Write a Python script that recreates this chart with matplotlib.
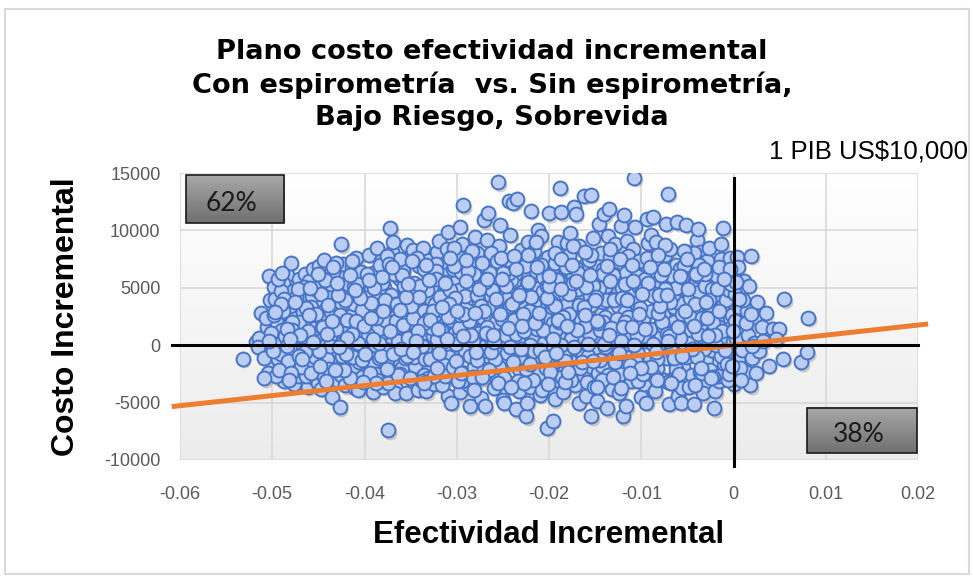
import matplotlib
matplotlib.use("Agg")
import matplotlib.pyplot as plt
import numpy as np
from matplotlib import transforms
from matplotlib.colors import LinearSegmentedColormap
from matplotlib.patches import Rectangle


OUTPUT_PATH = "out.png"

# Incremental effectiveness per simulation, in thousandths
delta_effect_milli = [
    -53.2, -51.8, -51.4, -51.2, -51.5, -50.9, -50.4, -50.6, -50.2, -50.5,
    -49.8, -49.5, -49.9, -49.2, -49.6, -49.0, -48.7, -49.3, -48.4, -48.9,
    -48.2, -49.7, -48.5, -49.1, -48.8, -48.1, -49.4, -48.6, -48.3, -49.0,
    -48.0, -47.8, -47.6, -47.3, -47.9, -47.1, -47.5, -47.7, -47.2, -47.4,
    -47.0, -46.8, -46.5, -46.9, -46.3, -46.6, -46.1, -46.7, -46.4, -46.2,
    -46.0, -45.8, -45.5, -45.2, -45.9, -45.6, -45.3, -45.0, -45.7, -45.4,
    -44.9, -44.6, -44.3, -44.8, -44.1, -44.5, -44.0, -44.7, -44.2, -44.4,
    -43.8, -43.5, -43.2, -43.9, -43.4, -43.0, -43.6, -43.3, -43.7, -43.1,
    -42.5, -42.7, -42.9, -42.2, -42.6, -42.0, -42.4, -42.8, -42.1, -42.3,
    -41.8, -41.5, -41.2, -41.9, -41.4, -41.0, -41.6, -41.3, -41.7, -41.1,
    -40.9, -40.6, -40.3, -40.8, -40.1, -40.5, -40.0, -40.7, -40.2, -40.4,
    -39.8, -39.5, -39.2, -39.9, -39.4, -39.0, -39.6, -39.3, -39.7, -39.1,
    -38.9, -38.6, -38.3, -38.8, -38.1, -38.5, -38.0, -38.7, -38.2, -38.4,
    -37.8, -37.4, -37.2, -37.9, -37.5, -37.0, -37.6, -37.3, -37.7, -37.1,
    -36.9, -36.6, -36.3, -36.8, -36.1, -36.5, -36.0, -36.7, -36.2, -36.4,
    -35.8, -35.5, -35.3, -35.9, -35.4, -35.0, -35.6, -35.2, -35.7, -35.1,
    -34.9, -34.6, -34.3, -34.8, -34.1, -34.5, -34.0, -34.7, -34.2, -34.4,
    -33.8, -33.5, -33.2, -33.9, -33.4, -33.0, -33.6, -33.3, -33.7, -33.1,
    -32.9, -32.6, -32.3, -32.8, -32.1, -32.5, -32.0, -32.7, -32.2, -32.4,
    -31.8, -31.5, -31.2, -31.9, -31.4, -31.0, -31.6, -31.3, -31.7, -31.1,
    -30.9, -30.6, -30.3, -30.8, -30.1, -30.5, -30.0, -30.7, -30.2, -30.4,
    -29.8, -29.3, -29.2, -29.9, -29.4, -29.0, -29.6, -29.5, -29.7, -29.1,
    -28.9, -28.6, -28.3, -28.8, -28.1, -28.5, -28.0, -28.7, -28.2, -28.4,
    -27.8, -27.5, -27.2, -27.9, -27.4, -27.0, -27.6, -27.3, -27.7, -27.1,
    -26.6, -26.9, -26.3, -26.8, -26.1, -26.5, -26.0, -26.7, -26.2, -26.4,
    -25.5, -25.8, -25.2, -25.9, -25.4, -25.0, -25.6, -25.3, -25.7, -25.1,
    -24.9, -24.6, -24.3, -24.8, -23.9, -24.5, -24.0, -24.7, -24.2, -24.4,
    -23.5, -23.8, -23.2, -23.9, -23.4, -23.0, -23.6, -23.3, -23.7, -23.1,
    -22.9, -22.5, -22.3, -22.8, -22.0, -22.6, -22.1, -22.7, -22.2, -22.4,
    -21.8, -21.5, -21.2, -21.9, -21.4, -21.0, -21.6, -21.3, -21.7, -21.1,
    -20.9, -20.2, -20.3, -20.8, -20.1, -20.5, -20.0, -20.7, -19.6, -20.4,
    -19.8, -19.5, -19.2, -19.9, -19.4, -19.0, -19.6, -19.3, -19.7, -19.1,
    -18.8, -18.6, -18.3, -18.9, -18.1, -18.5, -18.0, -18.7, -18.2, -18.4,
    -17.8, -17.3, -17.2, -17.9, -17.4, -17.0, -17.6, -17.1, -17.7, -16.8,
    -16.9, -16.2, -16.3, -16.8, -16.1, -16.5, -16.0, -16.7, -16.4, -16.6,
    -15.5, -15.8, -15.2, -15.9, -15.4, -15.0, -15.6, -15.3, -15.7, -15.1,
    -14.9, -14.6, -14.3, -14.8, -14.1, -14.5, -14.0, -14.7, -14.2, -14.4,
    -13.5, -13.8, -13.2, -13.9, -13.4, -13.0, -13.6, -13.3, -13.7, -13.1,
    -12.9, -12.6, -12.3, -12.8, -12.0, -12.5, -12.2, -12.7, -12.1, -12.4,
    -11.6, -11.8, -11.2, -11.9, -11.4, -11.0, -11.5, -11.3, -11.7, -11.1,
    -10.8, -10.6, -10.3, -10.9, -10.1, -10.5, -10.0, -10.7, -10.2, -10.4,
    -9.8, -9.5, -9.2, -9.9, -9.4, -9.0, -9.6, -9.3, -9.7, -9.1,
    -8.9, -8.7, -8.3, -8.8, -8.1, -8.5, -8.0, -8.6, -8.2, -8.4,
    -7.8, -7.5, -7.1, -7.9, -7.4, -7.0, -7.6, -7.3, -7.7, -7.2,
    -6.9, -6.6, -6.3, -6.8, -6.1, -6.5, -6.0, -6.7, -6.2, -6.4,
    -5.8, -5.5, -5.1, -5.9, -5.4, -5.0, -5.6, -5.3, -5.7, -5.2,
    -4.9, -4.6, -4.3, -4.8, -4.1, -4.5, -4.0, -4.7, -4.2, -4.4,
    -3.8, -3.5, -3.2, -3.9, -3.4, -3.0, -3.6, -3.3, -3.7, -3.1,
    -2.9, -2.6, -2.3, -2.8, -2.1, -2.5, -2.0, -2.7, -2.2, -2.4,
    -1.9, -1.6, -1.1, -1.8, -1.4, -1.0, -1.5, -1.3, -1.7, -1.2,
    -0.9, -0.6, -0.3, -0.8, -0.1, -0.5, 0.0, -0.7, -0.2, -0.4,
    0.2, 0.5, 0.8, 0.3, 1.1, 0.6, 1.4, 0.9, 1.2, 0.4,
    1.6, 1.9, 2.3, 1.8, 2.0, 2.6, 1.5, 2.2, 3.1, 2.8,
    3.5, 4.3, 4.9, 5.4, 5.5, 7.3, 8.0, 8.1, 3.8, 4.6,
    -50.1, -49.6, -49.1, -48.6, -48.1, -47.6, -47.1, -46.6, -46.1, -45.6,
    -45.1, -44.6, -44.1, -43.6, -43.1, -42.6, -42.1, -41.6, -41.1, -40.6,
    -40.1, -39.6, -39.1, -38.6, -38.1, -37.6, -37.1, -36.6, -36.1, -35.6,
    -35.1, -34.6, -34.1, -33.6, -33.1, -32.6, -32.1, -31.6, -31.1, -30.6,
    -30.1, -29.6, -29.1, -28.6, -28.1, -27.6, -27.1, -26.6, -26.1, -25.6,
    -25.1, -24.6, -24.1, -23.6, -23.1, -22.6, -22.1, -21.6, -21.1, -20.6,
    -20.1, -19.6, -19.1, -18.6, -18.1, -17.6, -17.1, -16.6, -16.1, -15.6,
    -15.1, -14.6, -14.1, -13.6, -13.1, -12.6, -12.1, -11.6, -11.1, -10.6,
    -10.1, -9.6, -9.1, -8.6, -8.1, -7.6, -7.1, -6.6, -6.1, -5.6,
    -5.1, -4.6, -4.1, -3.6, -3.1, -2.6, -2.1, -1.6, -1.1, -0.6,
    -49.4, -48.3, -47.4, -46.3, -45.3, -44.4, -43.4, -42.3, -41.4, -40.3,
    -39.4, -38.3, -37.4, -36.3, -35.4, -34.3, -33.4, -32.3, -31.4, -30.3,
    -29.4, -28.3, -27.4, -26.3, -25.4, -24.3, -23.4, -22.3, -21.4, -20.3,
    -19.4, -18.3, -17.4, -16.3, -15.4, -14.3, -13.4, -12.3, -11.4, -10.3,
    -9.4, -8.3, -7.4, -6.3, -5.4, -4.3, -3.4, -2.3, -1.4, -0.3,
    -50.7, -49.9, -48.8, -47.9, -46.7, -45.8, -44.7, -43.8, -42.7, -41.8,
    -40.7, -39.8, -38.7, -37.8, -36.7, -35.8, -34.7, -33.8, -32.7, -31.8,
    -30.7, -29.8, -28.7, -27.8, -26.7, -25.8, -24.7, -23.8, -22.7, -21.8,
    -20.7, -19.8, -18.7, -17.8, -16.7, -15.8, -14.7, -13.8, -12.7, -11.8,
    -10.7, -9.8, -8.7, -7.8, -6.7, -5.8, -4.7, -3.8, -2.7, -1.8,
    -36.2, -34.2, -32.2, -30.2, -28.2, -26.2, -24.2, -22.2, -20.2, -18.2,
    -16.2, -14.2, -12.2, -10.2, -8.2, -6.2, -4.2, -2.2, -37.6, -33.6,
    -29.6, -25.6, -21.6, -17.6, -13.6, -9.6, -5.6, -1.6, -43.6, -39.6,
    -31.4, -27.4, -23.4, -19.4, -15.4, -11.4, -7.4, -3.4, -45.4, -41.4,
    -50.35, -49.85, -49.25, -48.75, -48.35, -47.85, -47.25, -46.85, -46.35, -45.75,
    -45.25, -44.85, -44.25, -43.75, -43.25, -42.85, -42.25, -41.85, -41.25, -40.85,
    -40.25, -39.75, -39.25, -38.85, -38.25, -37.75, -37.25, -36.85, -36.35, -35.75,
    -35.25, -34.85, -34.25, -33.75, -33.25, -32.85, -32.25, -31.75, -31.25, -30.85,
    -30.25, -29.85, -29.25, -28.75, -28.25, -27.85, -27.25, -26.85, -26.25, -25.75,
    -25.25, -24.85, -24.25, -23.75, -23.25, -22.85, -22.25, -21.75, -21.25, -20.85,
    -20.25, -19.85, -19.25, -18.75, -18.25, -17.85, -17.25, -16.85, -16.25, -15.75,
    -15.25, -14.85, -14.25, -13.75, -13.25, -12.85, -12.25, -11.75, -11.25, -10.85,
    -10.25, -9.85, -9.25, -8.75, -8.25, -7.85, -7.25, -6.85, -6.25, -5.75,
    -5.25, -4.85, -4.25, -3.75, -3.25, -2.85, -2.25, -1.75, -1.25, -0.75,
    -49.05, -47.95, -46.95, -45.95, -44.95, -43.95, -42.95, -41.95, -40.95, -39.95,
    -38.95, -37.95, -36.95, -35.95, -34.95, -33.95, -32.95, -31.95, -30.95, -29.95,
    -28.95, -27.95, -26.95, -25.95, -24.95, -23.95, -22.95, -21.95, -20.95, -19.95,
    -18.95, -17.95, -16.95, -15.95, -14.95, -13.95, -12.95, -11.95, -10.95, -9.95,
    -8.95, -7.95, -6.95, -5.95, -4.95, -3.95, -2.95, -1.95, -0.95, 0.15,
    -48.45, -46.45, -44.45, -42.45, -40.45, -38.45, -36.45, -34.45, -32.45, -30.45,
    -28.45, -26.45, -24.45, -22.45, -20.45, -18.45, -16.45, -14.45, -12.45, -10.45,
    -8.45, -6.45, -4.45, -2.45, -0.45, -47.05, -43.05, -39.05, -35.05, -31.05,
    -27.05, -23.05, -19.05, -15.05, -11.05, -7.05, -3.05, -0.05, 0.75, 1.35,
    -37.35, -33.35, -29.35, -25.35, -21.35, -17.35, -13.35, -9.35, -5.35, -1.35,
    0.45, 1.05, 0.85, 1.65, 2.45, 3.25, 2.05, 0.25, -0.35, 1.95,
    -49.65, -48.05, -46.05, -44.05, -42.05, -40.05, -38.05, -36.05, -34.05, -32.05,
    -30.05, -28.05, -26.05, -24.05, -22.05, -20.05, -18.05, -16.05, -14.05, -12.05,
    -10.05, -8.05, -6.05, -4.05, -2.05, -39.55, -35.55, -31.55, -27.55, -23.55,
    -19.55, -15.55, -11.55, -7.55, -3.55, -47.55, -43.55, -45.55, -41.55, -37.55,
    -33.55, -29.55, -25.55, -21.55, -17.55, -13.55, -9.55, -5.55, -1.55, -48.95,
    -45.05, -41.05, -37.05, -33.05, -29.05, -25.05, -21.05, -17.05, -13.05, -9.05,
    -5.05, -1.05, -43.25, -39.25, -35.25, -31.25, -27.25, -23.25, -19.25, -15.25,
    -11.25, -7.25, -3.25, -46.75, -42.75, -38.75, -34.75, -30.75, -26.75, -22.75,
    -18.75, -14.75, -10.75, -6.75, -2.75, -48.15, -44.15, -40.15, -36.15, -32.15,
    -28.15, -24.15, -20.15, -16.15, -12.15, -8.15, -4.15, -0.15, 0.55, -50.85,
]

# Incremental cost per simulation, in thousands of US$
delta_cost_thousand = [
    -1.2, 0.3, 0.6, 2.8, -0.2, -1.1, 6.0, 1.6, 3.9, -2.4,
    5.1, 3.2, 0.9, -1.8, 2.1, 4.4, -3.1, -0.5, 6.1, 1.3,
    -2.6, 4.0, 3.6, 0.2, 5.4, 1.9, -1.2, -2.0, 2.8, -0.8,
    7.2, 4.7, -3.4, 0.6, 3.0, 5.8, -1.6, 2.4, -2.7, 1.1,
    3.9, -0.3, 6.2, -2.2, 4.5, 1.7, -3.6, 2.9, -1.0, 0.4,
    5.6, 2.2, -2.9, 3.5, -1.5, 6.6, 0.9, -3.3, 4.3, 1.5,
    6.9, -0.7, 3.1, 2.5, -2.4, 5.0, 4.1, -3.8, 0.0, 7.4,
    1.8, -4.5, 5.8, -1.9, 3.7, -3.0, 0.5, 6.3, 4.6, -0.9,
    8.8, -5.4, 2.0, 4.8, -2.6, 6.0, 1.1, 3.2, -3.5, 7.1,
    5.3, -1.3, 2.7, 0.3, 6.8, -3.7, 4.0, -2.1, 1.5, 3.6,
    7.6, 1.0, -2.8, 4.4, 5.9, -0.4, 2.3, -3.9, 0.8, 6.4,
    3.0, 7.9, -1.7, 5.5, -3.2, 1.9, -0.2, 4.9, 2.6, -4.1,
    6.1, 8.5, 0.6, -2.5, 3.8, 1.4, -3.6, 4.6, 7.3, -1.1,
    2.2, -7.4, 10.2, 5.1, -0.6, 8.1, 3.4, -2.9, 6.7, 0.1,
    9.0, -3.8, 1.7, 4.2, -1.4, 7.0, 2.8, -4.2, 5.8, 0.4,
    6.5, -4.2, 3.3, -2.0, 8.7, 1.2, 4.9, -0.8, 2.0, 7.7,
    0.0, 5.4, -3.1, 3.7, 6.9, -1.8, 2.5, 8.3, -3.9, 1.6,
    4.4, -2.6, 7.4, 1.0, -0.3, 5.9, 3.0, -4.0, 8.5, 2.3,
    6.3, 0.8, -1.5, 4.0, 8.1, -3.4, 2.7, 5.2, -0.9, 3.6,
    -2.2, 7.0, 1.9, 9.1, 4.6, -4.4, 0.3, 6.1, 3.1, 8.4,
    9.9, -5.0, 2.9, -1.0, 5.5, 7.8, -3.0, 3.9, 1.1, 6.6,
    4.8, 12.2, -2.4, 0.5, 8.8, 2.0, -4.1, 6.4, 10.3, -0.5,
    3.4, -5.3, 7.3, 1.5, -1.9, 5.0, 9.4, -3.5, 4.1, 0.7,
    8.0, -2.8, 2.4, 6.0, -4.6, 10.9, 3.7, -0.2, 1.2, 5.7,
    11.5, -5.3, 4.3, -1.3, 7.6, 2.6, -3.7, 9.2, 0.2, 6.3,
    14.2, 1.9, -2.5, 5.1, 8.6, -4.8, 3.0, 10.5, -0.7, 6.8,
    -5.0, 4.0, 12.6, 0.9, 12.4, -1.6, 7.1, 2.7, 9.6, -3.3,
    12.7, 5.6, -4.0, 3.5, 0.4, 8.3, -5.6, -2.1, 6.2, 1.8,
    4.6, -6.2, 9.0, -0.6, 11.7, 2.1, -3.6, 7.4, 5.3, -5.0,
    0.7, 3.9, 10.0, -2.7, 6.5, -4.3, 8.2, 1.4, -1.2, 5.0,
    9.5, -7.2, 3.2, -3.9, 7.7, 0.2, 11.5, 5.9, -6.6, 2.5,
    -1.8, 6.9, 4.4, 1.0, -4.7, 9.0, -0.1, 7.2, 3.3, -3.0,
    13.7, 2.8, -2.2, 5.7, 8.9, -4.1, 0.8, 11.6, 4.2, -0.9,
    7.9, 12.0, -3.5, 1.6, 6.0, -1.4, 3.6, 11.4, 9.8, -5.0,
    4.9, 13.0, -2.6, 0.3, 7.0, 2.2, -4.4, 8.6, 5.5, -0.5,
    13.1, 3.1, 9.3, -3.2, -6.2, 5.8, 0.9, -1.9, 7.4, 2.0,
    -0.3, 10.6, 4.6, -4.9, 6.6, 1.3, 11.4, -2.4, 3.8, 8.0,
    11.9, 5.2, -3.8, 2.5, 7.7, -1.0, 9.5, 0.6, -5.5, 4.0,
    6.2, -2.9, 1.7, 8.8, -6.2, 3.4, 10.4, -0.4, 5.0, -4.2,
    -5.3, 2.9, 7.2, 11.3, -1.6, 4.5, 9.1, 0.1, 6.3, -3.1,
    14.6, 3.7, -2.3, 8.4, 1.0, 6.0, -4.5, 10.3, 5.1, -0.8,
    2.3, -5.0, 7.6, 4.8, 11.0, -1.3, 0.4, 8.9, -3.4, 6.4,
    9.6, 11.2, -2.0, 3.0, 5.6, -4.0, 1.8, 7.2, -0.1, 9.0,
    4.2, -3.0, 13.2, 0.9, 7.9, -5.1, 2.6, 10.6, 6.0, -1.1,
    8.4, 1.3, -2.7, 5.3, 10.7, 3.3, -4.4, -0.6, 7.0, 2.0,
    6.6, -1.9, 10.5, 3.7, 0.2, 8.1, -3.7, 4.9, -5.0, 1.5,
    2.9, 7.6, -5.1, 0.6, 5.4, -2.6, 9.2, 4.1, -0.8, 6.6,
    10.1, 1.8, -3.3, 6.0, 3.5, -1.4, 8.1, -4.2, 4.6, 0.1,
    7.3, -2.2, 3.0, 5.2, -5.5, 1.0, -4.0, 8.5, 6.4, -0.4,
    4.3, -3.1, 10.2, 2.1, 7.5, -1.6, 5.6, 0.7, -2.7, 3.4,
    6.2, 1.4, -2.0, 3.9, 0.3, 4.8, -3.4, -0.9, 2.6, 7.6,
    4.5, -1.2, 2.0, 0.6, 5.6, 3.3, -2.3, -0.4, 1.5, 7.7,
    0.9, 7.8, 2.5, -3.5, -1.1, 3.8, 3.0, 0.2, 1.6, -0.5,
    2.8, 1.4, 1.4, -1.2, 4.0, -1.5, -0.6, 2.4, -1.8, 0.5,
    1.1, -2.7, 4.7, 0.8, 3.4, -0.5, 2.0, 5.1, 1.2, -0.2,
    4.8, 1.6, -1.2, 2.9, 7.2, 0.1, 3.9, -2.9, 5.2, -1.5,
    3.6, 0.9, 6.3, -3.0, 5.4, -1.3, 4.4, 2.1, 7.5, -1.1,
    3.8, -1.0, 5.0, 6.6, -2.9, 3.0, 0.5, -3.5, 5.0, 2.2,
    0.1, 7.6, 4.3, -0.9, 6.2, 1.1, -2.1, 3.2, 5.1, -3.0,
    2.3, -0.7, 5.7, 1.0, 3.8, 6.9, 0.0, 3.6, -2.5, 4.7,
    -1.0, 1.9, 5.7, -2.8, 3.6, 0.5, 6.7, -2.0, 1.7, 4.3,
    -3.6, 5.0, 2.0, 0.3, 6.1, 2.3, -2.2, 4.0, 1.1, -1.5,
    3.2, 5.8, 1.4, -2.7, 3.8, 1.7, -3.2, 4.4, 0.7, 2.7,
    -1.0, 1.3, 3.0, -2.3, 5.2, 3.5, 0.9, 1.6, -0.5, -3.0,
    5.8, -1.4, 4.2, -2.7, 5.0, -2.8, 6.8, -1.6, 7.3, 3.1,
    -2.4, 7.0, -3.3, 6.1, -0.9, 7.6, -1.2, 7.1, -1.7, 8.5,
    -3.1, 8.2, -0.6, 8.0, -1.9, 6.3, -3.1, 7.9, 9.0, -2.0,
    8.0, -1.4, 8.6, -0.9, 7.9, -1.8, 8.4, -2.5, 7.8, -3.1,
    6.9, -1.2, 8.7, -1.4, 6.9, 8.0, -2.4, 4.9, -0.9, 5.3,
    2.4, -0.5, 3.0, 2.0, -0.4, 3.3, 4.5, -2.1, 2.6, 1.4,
    0.2, 4.1, 2.4, -0.3, 3.6, 1.8, 2.4, -0.1, 1.5, 4.2,
    4.8, 1.5, 2.1, 4.4, 1.6, -1.2, 5.2, 2.2, 1.2, 2.9,
    1.3, 3.8, 0.0, 2.7, 3.5, -0.9, 1.9, 3.9, 1.2, 5.3,
    2.2, 0.8, 4.3, 2.0, 6.0, 0.6, 2.5, 1.0, 3.9, 6.0,
    -2.5, 4.6, 6.5, 4.1, -2.8, 4.8, -0.2, 3.0, 5.2, 6.8,
    3.0, 6.2, 0.4, 7.3, 2.8, 5.0, 3.6, 1.9, 7.8, 1.9,
    2.6, 7.3, -0.5, -3.0, -2.6, -2.0, 5.9, 6.8, 5.3, -0.6,
    5.5, 3.4, 4.2, 3.4, 3.5, 2.5, 4.9, 2.4, -1.0, 1.0,
    0.4, 2.6, -2.2, 4.0, -0.1, 1.3, 4.9, -1.9, 3.2, -2.4,
    2.7, -1.8, 5.7, -0.1, 1.9, 4.4, -2.2, 2.2, -1.0, 5.3,
    -1.3, 6.2, 3.7, 0.0, -0.9, 3.9, 1.2, 6.2, -2.6, 5.2,
    0.6, 7.3, 1.2, -3.1, 4.8, -1.2, 5.8, 1.3, -2.7, 3.6,
    6.9, -3.1, 2.7, 6.5, 0.4, -1.3, 7.2, 1.1, -0.6, 4.0,
    7.6, -2.9, 3.4, 7.8, -1.1, 2.7, 5.5, -3.0, 2.2, 7.0,
    4.1, -2.3, 1.4, 7.5, -3.2, 4.5, -0.2, 6.3, 3.3, 0.1,
    5.2, 2.1, -3.0, 6.9, 1.5, -1.5, 7.5, 2.0, -1.7, 5.6,
    2.7, -2.5, 5.4, 0.1, -3.0, 6.1, 1.0, 3.8, -2.1, 6.0,
    3.0, -3.6, 1.7, 7.0, -0.3, 2.4, -2.8, 4.9, 1.2, -1.6,
    3.6, -2.4, 0.9, 5.0, -0.5, 3.5, 5.4, 0.6, 2.1, -0.8,
    5.0, 3.0, -0.8, 6.1, 3.4, 5.2, 2.2, -0.7, 2.5, 3.0,
    5.6, -0.6, 5.5, 0.3, 6.3, -1.5, 1.7, 4.2, -0.4, 5.2,
    2.0, -2.3, 1.3, 5.1, 4.2, -0.2, 3.9, 1.6, 7.0, 4.5,
    -1.9, 3.4, 0.8, -2.5, 4.9, -1.0, 3.8, 0.0, -0.4, 2.1,
    1.4, -0.6, 1.6, -0.9, 4.1, 0.2, 3.6, 0.4, -2.7, -1.9,
    0.9, -2.2, 1.5, -2.1, -1.0, 2.5, -1.5, -1.3, -0.7, 0.8,
    -0.6, -1.1, -0.3, -2.9, -2.5, -0.9, 1.4, 0.5, -2.9, 0.5,
    3.0, -0.3, 2.2, 3.9, 1.6, 0.4, 6.2, 1.2, -2.0, 1.9,
    7.1, 7.0, 0.8, 2.7, 6.8, 5.4, 5.6, 7.6, 8.2, 8.8,
    6.8, 3.9, -3.0, 5.2, -2.4, 0.4, -0.1, 5.5, 6.6, 2.7,
    2.9, 0.5, 2.6, 1.0, -0.8, 1.7, 5.9, -0.3, 4.2, 1.4,
    -1.4, 2.8, 0.9, 3.6, -1.6, 6.0, 1.7, 2.6, 0.1, 4.1,
    -2.0, 4.4, 1.6, 6.2, 0.9, 5.7, 4.2, 3.3, 4.9, 6.6,
    0.5, 6.1, 3.9, 6.6, -2.0, 3.8, 2.1, 0.3, 6.1, -2.1,
    -3.3, -2.4, -3.3, 1.9, 7.0, 0.9, 1.4, -0.9, 3.0, 6.3,
    6.2, 4.8, 6.8, 5.7, 7.4, 5.8, 2.8, 5.6, -2.8, 6.8,
    7.5, 5.8, -2.2, 2.4, 5.3, 5.4, -2.8, 4.4, -0.7, -1.4,
    -2.4, 4.4, 6.6, -1.2, -0.2, -3.3, -0.6, 7.6, 5.8, -3.3,
    4.9, -3.6, 0.0, -3.3, 0.8, -3.0, -3.1, -3.2, 3.1, -2.0,
    -3.9, -3.6, -3.4, 8.1, -3.7, 7.9, -3.5, -1.8, 4.0, -2.9,
]

# Willingness-to-pay threshold line (1 PIB)
threshold_effect = [-0.0609, 0.0211]
threshold_cost = [-5350, 1850]

x_ticks = [-0.06, -0.05, -0.04, -0.03, -0.02, -0.01, 0.0, 0.01, 0.02]
x_tick_labels = ["-0.06", "-0.05", "-0.04", "-0.03", "-0.02", "-0.01", "0", "0.01", "0.02"]
y_ticks = [-10000, -5000, 0, 5000, 10000, 15000]
y_tick_labels = ["-10000", "-5000", "0", "5000", "10000", "15000"]

quadrant_shares = ["62%", "38%"]
# (x0, x1, y0, y1) of each share box in data units
share_boxes = [(-0.0594, -0.0487, 10650, 14820), (0.0080, 0.0199, -9350, -5430)]

TITLE = "Plano costo efectividad incremental\nCon espirometría  vs. Sin espirometría,\nBajo Riesgo, Sobrevida"


def draw_gradient(ax, extent, top_color, bottom_color, zorder):
    cmap = LinearSegmentedColormap.from_list("grad", [bottom_color, top_color])
    ramp = np.linspace(0, 1, 256).reshape(-1, 1)
    ax.imshow(ramp, extent=extent, origin="lower", aspect="auto", cmap=cmap,
              interpolation="bilinear", zorder=zorder)


def plot_cost_effectiveness_plane() -> None:
    if len(delta_effect_milli) != len(delta_cost_thousand):
        raise ValueError(f"{len(delta_effect_milli)} effects vs {len(delta_cost_thousand)} costs")

    effect = np.array(delta_effect_milli) / 1000.0
    cost = np.array(delta_cost_thousand) * 1000.0

    fig = plt.figure(figsize=(9.73, 5.78), dpi=100)
    fig.patch.set_facecolor("white")
    fig.add_artist(Rectangle((5 / 973, 4 / 578), 964 / 973, 565 / 578, transform=fig.transFigure,
                             fill=False, edgecolor="#d9d9d9", linewidth=1.5))

    ax = fig.add_axes([180 / 973, 118 / 578, 738 / 973, 287 / 578])
    xlim = (-0.06, 0.02)
    ylim = (-10000, 15000)

    draw_gradient(ax, (*xlim, *ylim), "#ffffff", "#ececec", zorder=0)

    ax.set_xlim(*xlim)
    ax.set_ylim(*ylim)
    for spine in ax.spines.values():
        spine.set_visible(False)
    ax.set_axisbelow(True)
    ax.grid(True, color="#d9d9d9", linewidth=1.2)

    ax.set_xticks(x_ticks, x_tick_labels)
    ax.set_yticks(y_ticks, y_tick_labels)
    tick_font = ["Liberation Sans Narrow", "Liberation Sans"]
    ax.tick_params(length=0, labelsize=13, labelcolor="#595959")
    ax.tick_params(axis="x", pad=19)
    ax.tick_params(axis="y", pad=14)
    for label in ax.get_xticklabels() + ax.get_yticklabels():
        label.set_family(tick_font)

    shadow = transforms.offset_copy(ax.transData, fig=fig, x=1.2, y=-1.8, units="points")
    ax.scatter(effect, cost, s=100, color="#7a7a7a", alpha=0.35, linewidths=0,
               transform=shadow, zorder=2)
    ax.scatter(effect, cost, s=100, facecolor="#bccdf4", edgecolor="#4674c6",
               linewidths=1.4, zorder=3)

    ax.plot(threshold_effect, threshold_cost, color="#ed7d31", linewidth=3.6,
            solid_capstyle="butt", clip_on=False, zorder=4)
    ax.plot([-0.0609, 0.0200], [0, 0], color="black", linewidth=2.2, clip_on=False, zorder=5)
    ax.plot([0, 0], [14550, -10500], color="black", linewidth=2.2, clip_on=False, zorder=5)

    for share, (x0, x1, y0, y1) in zip(quadrant_shares, share_boxes):
        draw_gradient(ax, (x0, x1, y0, y1), "#a9a9a9", "#6f6f6f", zorder=6)
        ax.add_patch(Rectangle((x0, y0), x1 - x0, y1 - y0, fill=False,
                               edgecolor="#1a1a1a", linewidth=1.2, zorder=7))
        ax.text((x0 + x1) / 2 - 0.0004, (y0 + y1) / 2 - 350, share, ha="center", va="center",
                fontsize=19, family=["Lato", "DejaVu Sans"], color="#1a1a1a", zorder=8)
    ax.set_xlim(*xlim)
    ax.set_ylim(*ylim)

    ax.set_xlabel("Efectividad Incremental", fontsize=22.5, fontweight="bold",
                  family="Liberation Sans", labelpad=12)
    ax.set_ylabel("Costo Incremental", fontsize=23, fontweight="bold",
                  family="Liberation Sans", labelpad=17)

    fig.text(492 / 973, 1 - 39 / 578, TITLE, ha="center", va="top", fontsize=19.6,
             fontweight="bold", family=["DejaVu Sans"], linespacing=1.3)
    fig.text(968 / 973, 1 - 152 / 578, "1 PIB US$10,000", ha="right", va="center",
             fontsize=18.5, family="Liberation Sans", color="black")

    fig.savefig(OUTPUT_PATH, dpi=100)


if __name__ == "__main__":
    plot_cost_effectiveness_plane()
